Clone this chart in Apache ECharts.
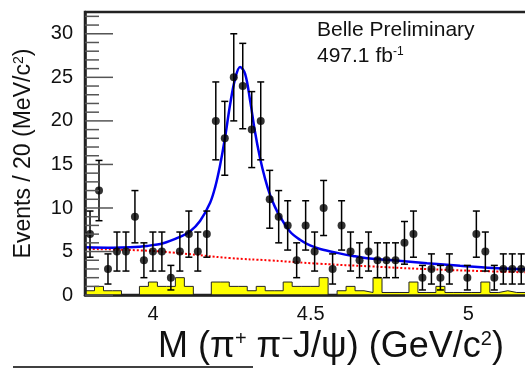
<!DOCTYPE html>
<html>
<head>
<meta charset="utf-8">
<script src="https://cdn.jsdelivr.net/npm/echarts@6/dist/echarts.min.js"></script>
<style>
  html, body { margin: 0; padding: 0; background: #ffffff; overflow: hidden; }
  /* the frame runs on past the right edge of the window */
  #chart { width: 547px; height: 370px; }
</style>
</head>
<body>
<div id="chart"></div>
<script>
// pi+ pi- J/psi invariant-mass spectrum with fit, background and sideband histogram

// mass binning (GeV/c^2)
const binStart = 3.80;      // centre of the first bin
const binWidth = 0.0285;

// events per bin (null = empty bin, no marker)
const eventCounts = [7, 12, 3, 5, 5, 9, 4, 5, 5, 2, 5, 7, 5, 7, 20, 18, 25, 24, 19, 20,
  11, 9, 8, 4, 8, 5, 10, 3, 8, 5, 4, 5, 4, 4, 4, 6, 7, 2, 3, 2, 3, null, 2, 7, 5, 2, 3, 3, 3];
const eventErrors = [2.65, 3.46, 1.73, 2.24, 2.24, 3.0, 2.0, 2.24, 2.24, 1.41, 2.24, 2.65, 2.24, 2.65, 4.47, 4.24, 5.0, 4.9, 4.36, 4.47,
  3.32, 3.0, 2.83, 2.0, 2.83, 2.24, 3.16, 1.73, 2.83, 2.24, 2.0, 2.24, 2.0, 2.0, 2.0, 2.45, 2.65, 1.41, 1.73, 1.41, 1.73, null, 1.41, 2.65, 2.24, 1.41, 1.73, 1.73, 1.73];

// J/psi sideband histogram (same binning)
const sidebandCounts = [0.5, 0.5, 1.0, 0.5, 0.5, 0, 0, 1.0, 1.5, 1.0, 1.0, 2.0, 1.0, 0, 0, 1.5, 1.5, 1.0, 1.0, 0.5,
  1.0, 0.5, 0.5, 1.5, 1.0, 1.0, 1.0, 2.0, 0, 0.5, 1.0, 0.5, 0.3, 2.0, 0.3, 0.3, 0.3, 1.5, 0.3, 0.3,
  1.0, 0.3, 0.3, 0.3, 0.3, 1.5, 0.3, 0.5, 0.3, 0.3];

// total fit curve
const fitMass  = [3.784, 3.873, 3.927, 3.981, 4.032, 4.086, 4.117, 4.149, 4.181, 4.197, 4.212, 4.228, 4.244, 4.260,
  4.276, 4.292, 4.308, 4.323, 4.339, 4.355, 4.371, 4.387, 4.403, 4.434, 4.466, 4.498, 4.530, 4.584, 4.634, 4.688,
  4.761, 4.869, 4.974, 5.078, 5.180, 5.250];
const fitTotal = [5.5, 5.45, 5.5, 5.65, 5.95, 6.7, 7.3, 8.5, 10.6, 12.4, 14.8, 18.0, 21.8, 24.8,
  26.2, 25.4, 22.3, 18.8, 15.8, 13.4, 11.5, 10.1, 9.0, 7.3, 6.35, 5.7, 5.3, 4.85, 4.5, 4.2,
  4.0, 3.67, 3.36, 3.1, 2.98, 2.92];

// background component of the fit
const bkgMass  = [3.784, 3.981, 4.086, 4.244, 4.371, 4.530, 4.688, 4.869, 5.078, 5.250];
const bkgLevel = [5.3, 5.1, 4.8, 4.25, 3.98, 3.6, 3.3, 2.98, 2.72, 2.55];

// axis tick labels and tick marks
const massTickLabels  = [4, 4.5, 5];
const eventTickLabels = [0, 5, 10, 15, 20, 25, 30];
const eventMinorTicks = [1, 2, 3, 4, 6, 7, 8, 9, 11, 12, 13, 14, 16, 17, 18, 19, 21, 22, 23, 24, 26, 27, 28, 29, 31, 32];

const MASS_MIN = 3.7841, MASS_MAX = 5.2496;
const FONT = 'Liberation Sans, Arial, Helvetica, sans-serif';

const binCentre = i => binStart + i * binWidth;
const binLowEdge = i => binStart - binWidth / 2 + i * binWidth;

const pointData = [];
const errorData = [];
eventCounts.forEach((n, i) => {
  if (n === null) return;
  pointData.push([binCentre(i), n]);
  errorData.push([binCentre(i), n, eventErrors[i]]);
});

const sidebandData = sidebandCounts.map((v, i) => [binLowEdge(i), v]);
sidebandData.push([binLowEdge(sidebandCounts.length), sidebandCounts[sidebandCounts.length - 1]]);

const fitData = fitMass.map((m, i) => [m, fitTotal[i]]);
const bkgData = bkgMass.map((m, i) => [m, bkgLevel[i]]);

// inward tick marks on the left frame edge, as [mass at frame edge, value, tick length]
const tickData = eventMinorTicks.map(v => [MASS_MIN, v, 14])
  .concat(eventTickLabels.map(v => [MASS_MIN, v, 28]));

const chart = echarts.init(document.getElementById('chart'), null, { renderer: 'canvas' });

chart.setOption({
  animation: false,
  backgroundColor: '#ffffff',
  grid: {
    left: 85, right: 0, top: 12, bottom: 74,
    show: true, borderColor: '#222', borderWidth: 2.5, backgroundColor: 'transparent'
  },
  xAxis: {
    type: 'value', min: MASS_MIN, max: MASS_MAX, position: 'bottom', z: 5,
    axisLine: { show: true, onZero: false, lineStyle: { color: '#222', width: 2.5 } },
    axisTick: { show: false },
    splitLine: { show: false },
    axisLabel: {
      customValues: massTickLabels, formatter: v => String(v),
      fontSize: 20, color: '#111', margin: 9, fontFamily: FONT
    },
    name: 'M (π{sup|+} π{sup|−}J/ψ) (GeV/c{sup|2})',
    nameLocation: 'middle', nameGap: 31,
    nameTextStyle: {
      fontSize: 36, color: '#111', fontFamily: FONT, padding: [0, 0, 0, 30],
      rich: { sup: { fontSize: 20, color: '#111', fontFamily: FONT, verticalAlign: 'top' } }
    }
  },
  yAxis: {
    type: 'value', min: 0, max: 32.5, interval: 5, position: 'left', z: 5,
    axisLine: { show: true, onZero: false, lineStyle: { color: '#222', width: 2.5 } },
    axisTick: { show: false },
    axisLabel: {
      fontSize: 20, color: '#111', margin: 12, fontFamily: FONT, showMaxLabel: false,
      formatter: v => (eventTickLabels.indexOf(v) >= 0 ? String(v) : '')
    },
    splitLine: { show: false },
    name: 'Events / 20 (MeV/c{sup|2})',
    nameLocation: 'middle', nameRotate: 90, nameGap: 50,
    nameTextStyle: {
      fontSize: 23, color: '#111', fontFamily: FONT,
      rich: { sup: { fontSize: 14, color: '#111', fontFamily: FONT, verticalAlign: 'top' } }
    }
  },
  series: [
    {
      name: 'sideband', type: 'line', step: 'start', data: sidebandData,
      symbol: 'none', z: 1,
      lineStyle: { color: '#222', width: 1 },
      areaStyle: { color: '#ffff00', opacity: 1 }
    },
    {
      name: 'background', type: 'line', smooth: true, data: bkgData,
      symbol: 'none', z: 2,
      lineStyle: { color: '#ff0000', width: 2, type: [2, 2] }
    },
    {
      name: 'fit', type: 'line', smooth: 0.35, data: fitData,
      symbol: 'none', z: 3,
      lineStyle: { color: '#0000ee', width: 2.5 }
    },
    {
      name: 'errors', type: 'custom', data: errorData, z: 4,
      renderItem: (params, api) => {
        const x = api.value(0), y = api.value(1), e = api.value(2);
        const top = api.coord([x, y + e]);
        const bot = api.coord([x, Math.max(y - e, 0)]);
        const half = 3.5;
        const st = { stroke: '#000', lineWidth: 1.5 };
        return {
          type: 'group',
          children: [
            { type: 'line', shape: { x1: top[0], y1: top[1], x2: bot[0], y2: bot[1] }, style: st },
            { type: 'line', shape: { x1: top[0] - half, y1: top[1], x2: top[0] + half, y2: top[1] }, style: st },
            { type: 'line', shape: { x1: bot[0] - half, y1: bot[1], x2: bot[0] + half, y2: bot[1] }, style: st }
          ]
        };
      }
    },
    {
      name: 'data', type: 'scatter', data: pointData, z: 5,
      symbol: 'circle', symbolSize: 8,
      itemStyle: { color: '#000' }
    },
    {
      name: 'ticks', type: 'custom', data: tickData, z: 6, clip: false, silent: true,
      renderItem: (params, api) => {
        const p = api.coord([api.value(0), api.value(1)]);
        return {
          type: 'line',
          shape: { x1: p[0], y1: p[1], x2: p[0] + api.value(2), y2: p[1] },
          style: { stroke: '#555', lineWidth: 1.5 }
        };
      }
    }
  ],
  graphic: [
    {
      type: 'text', x: 317, y: 30, z: 10,
      style: { text: 'Belle Preliminary', fontSize: 21, fontFamily: FONT, fill: '#111', verticalAlign: 'middle' }
    },
    {
      type: 'text', x: 317, y: 56, z: 10,
      style: {
        text: '497.1 fb{sup|-1}', fontSize: 21, fontFamily: FONT, fill: '#111', verticalAlign: 'middle',
        rich: { sup: { fontSize: 12, fontFamily: FONT, fill: '#111', verticalAlign: 'top' } }
      }
    },
    {
      type: 'line', z: 10,
      shape: { x1: 13, y1: 367, x2: 253, y2: 367 },
      style: { stroke: '#000', lineWidth: 1.5 }
    }
  ]
});
</script>
</body>
</html>
